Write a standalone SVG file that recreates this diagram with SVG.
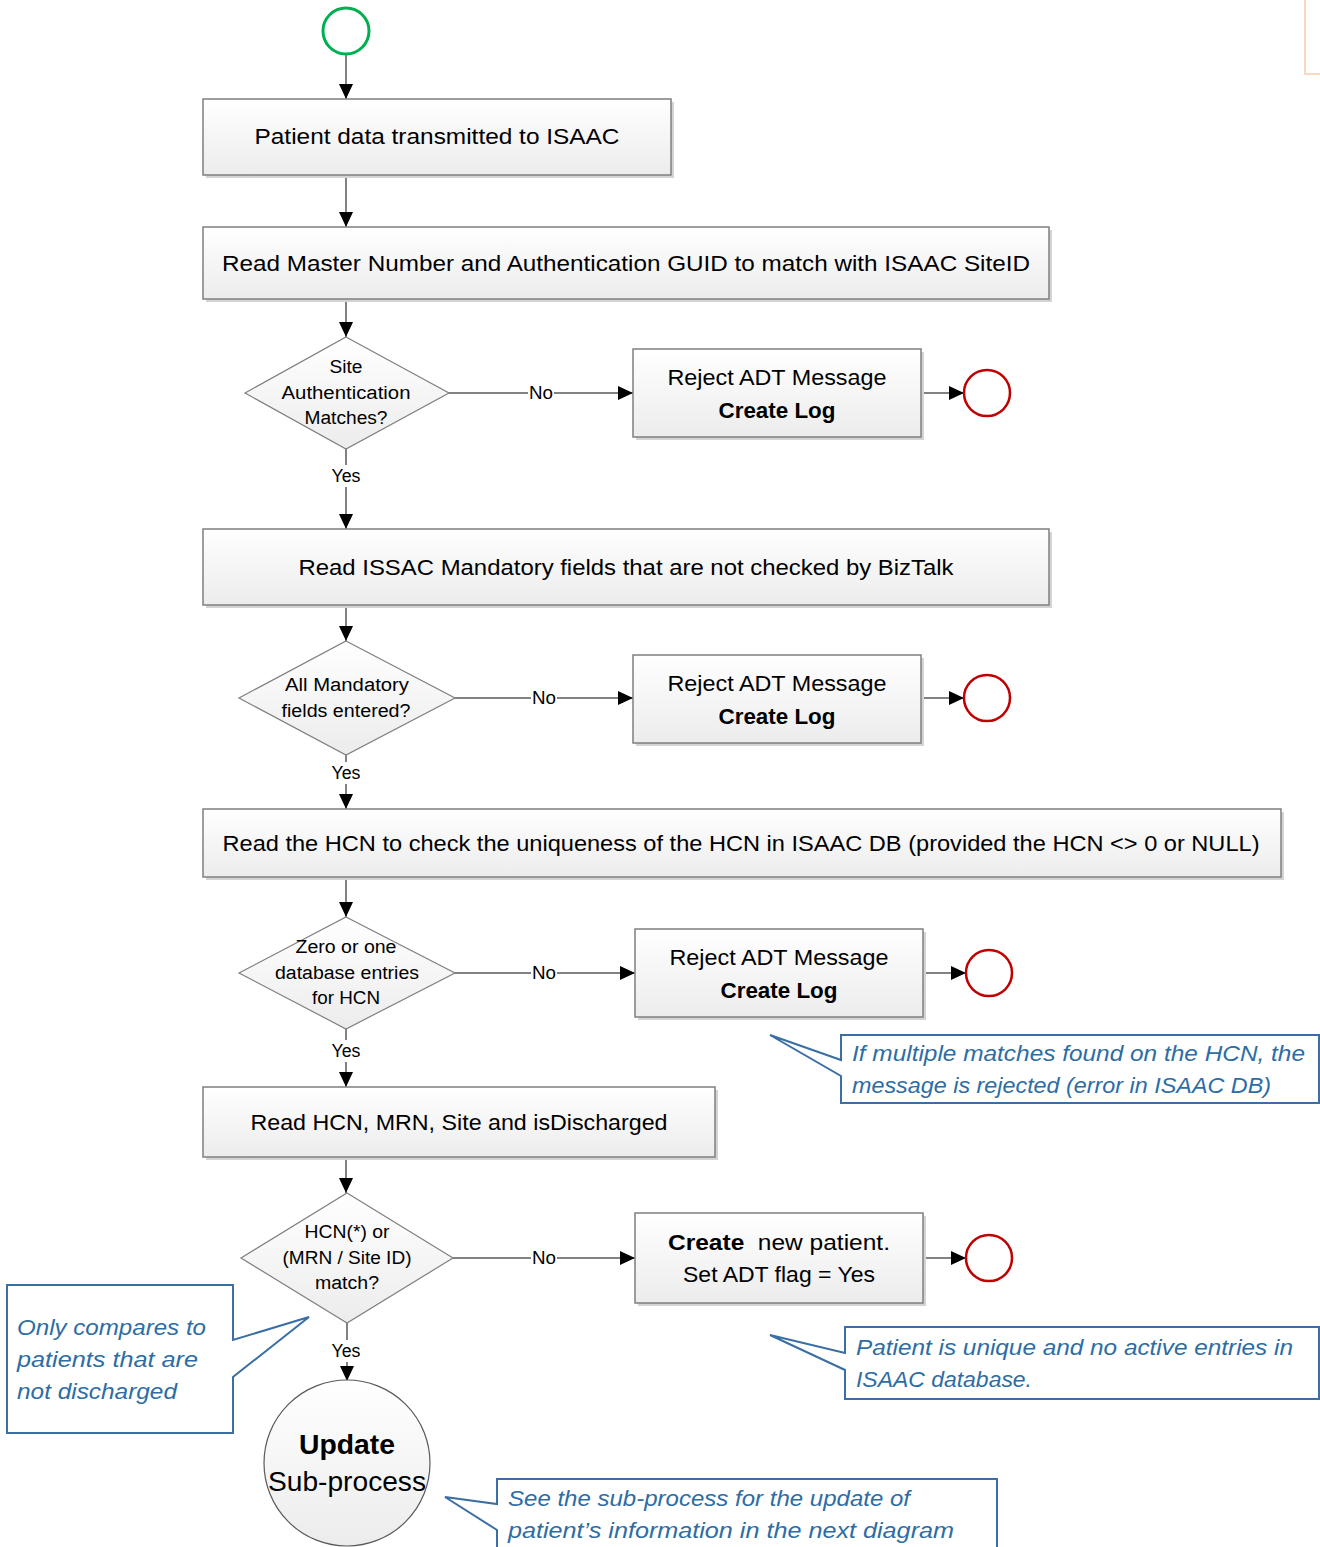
<svg xmlns="http://www.w3.org/2000/svg" width="1320" height="1547" viewBox="0 0 1320 1547">
<style>
.box{fill:url(#g);stroke:#7f7f7f;stroke-width:1.5}
.sh{fill:#d4d4d4}
.dia{fill:url(#g);stroke:#7f7f7f;stroke-width:1.2}
.t{font-family:"Liberation Sans",Arial,sans-serif;font-size:22px;fill:#000;text-anchor:middle}
.d{font-family:"Liberation Sans",Arial,sans-serif;font-size:18px;fill:#000;text-anchor:middle}
.b{font-weight:bold}
.c{font-family:"Liberation Sans",Arial,sans-serif;font-size:22px;font-style:italic;fill:#2e6da4}
.co{fill:#fff;stroke:#3a6ea5;stroke-width:2}
.ln{fill:none;stroke:#595959;stroke-width:1.5;marker-end:url(#a)}
.lb{font-family:"Liberation Sans",Arial,sans-serif;font-size:18px;fill:#000;text-anchor:middle}
.end{fill:#fff;stroke:#c00000;stroke-width:2.5}
</style>
<defs>
<linearGradient id="g" x1="0" y1="0" x2="0" y2="1"><stop offset="0" stop-color="#ffffff"/><stop offset="1" stop-color="#ececec"/></linearGradient>
<marker id="a" markerUnits="userSpaceOnUse" markerWidth="16" markerHeight="14" refX="15" refY="7" orient="auto"><path d="M0,0 L15,7 L0,14 Z" fill="#000"/></marker>
</defs>
<rect width="1320" height="1547" fill="#fff"/>
<g id="offpage"><path d="M1305,0 V74 H1320" fill="none" stroke="#f8d8c2" stroke-width="2"/></g>

<g id="connectors">
<path class="ln" d="M346,54 V99"/>
<path class="ln" d="M346,175 V227"/>
<path class="ln" d="M346,299 V337"/>
<path class="ln" d="M449,393 H633"/>
<path class="ln" d="M921,393 H964"/>
<path class="ln" d="M346,449 V529"/>
<path class="ln" d="M346,605 V641"/>
<path class="ln" d="M455,698 H633"/>
<path class="ln" d="M921,698 H964"/>
<path class="ln" d="M346,755 V809"/>
<path class="ln" d="M346,877 V917"/>
<path class="ln" d="M455,973 H635"/>
<path class="ln" d="M923,973 H966"/>
<path class="ln" d="M346,1029 V1087"/>
<path class="ln" d="M346,1157 V1193"/>
<path class="ln" d="M453,1258 H635"/>
<path class="ln" d="M923,1258 H966"/>
<path class="ln" d="M347,1323 V1381"/>
<g fill="#fff">
<rect x="528" y="383" width="26" height="20"/>
<rect x="531" y="688" width="26" height="20"/>
<rect x="531" y="963" width="26" height="20"/>
<rect x="531" y="1248" width="26" height="20"/>
<rect x="331" y="465" width="31" height="22"/>
<rect x="331" y="762" width="31" height="22"/>
<rect x="331" y="1040" width="31" height="22"/>
<rect x="331" y="1340" width="31" height="22"/>
</g>
<text class="lb" x="541" y="399" textLength="24" lengthAdjust="spacingAndGlyphs">No</text>
<text class="lb" x="544" y="704" textLength="24" lengthAdjust="spacingAndGlyphs">No</text>
<text class="lb" x="544" y="979" textLength="24" lengthAdjust="spacingAndGlyphs">No</text>
<text class="lb" x="544" y="1264" textLength="24" lengthAdjust="spacingAndGlyphs">No</text>
<text class="lb" x="346" y="482" textLength="29" lengthAdjust="spacingAndGlyphs">Yes</text>
<text class="lb" x="346" y="779" textLength="29" lengthAdjust="spacingAndGlyphs">Yes</text>
<text class="lb" x="346" y="1057" textLength="29" lengthAdjust="spacingAndGlyphs">Yes</text>
<text class="lb" x="346" y="1357" textLength="29" lengthAdjust="spacingAndGlyphs">Yes</text>
</g>

<g id="start"><circle cx="346" cy="31" r="23" fill="#fff" stroke="#00b050" stroke-width="3"/></g>

<g id="box1"><rect class="sh" x="206" y="102" width="468" height="76"/><rect class="box" x="203" y="99" width="468" height="76"/>
<text class="t" x="437" y="144" textLength="365" lengthAdjust="spacingAndGlyphs">Patient data transmitted to ISAAC</text></g>

<g id="box2"><rect class="sh" x="206" y="230" width="846" height="72"/><rect class="box" x="203" y="227" width="846" height="72"/>
<text class="t" x="626" y="271" textLength="808" lengthAdjust="spacingAndGlyphs">Read Master Number and Authentication GUID to match with ISAAC SiteID</text></g>

<g id="dec1"><polygon class="dia" points="346,337 449,393 346,449 245,393"/>
<text class="d" x="346" y="373" textLength="33" lengthAdjust="spacingAndGlyphs">Site</text>
<text class="d" x="346" y="399" textLength="129" lengthAdjust="spacingAndGlyphs">Authentication</text>
<text class="d" x="346" y="424" textLength="83" lengthAdjust="spacingAndGlyphs">Matches?</text></g>

<g id="reject1"><rect class="sh" x="636" y="352" width="288" height="88"/><rect class="box" x="633" y="349" width="288" height="88"/>
<text class="t" x="777" y="385" textLength="219" lengthAdjust="spacingAndGlyphs">Reject ADT Message</text>
<text class="t b" x="777" y="418" textLength="117" lengthAdjust="spacingAndGlyphs">Create Log</text></g>
<g id="end1"><circle class="end" cx="987" cy="393" r="23"/></g>

<g id="box3"><rect class="sh" x="206" y="532" width="846" height="76"/><rect class="box" x="203" y="529" width="846" height="76"/>
<text class="t" x="626" y="575" textLength="655" lengthAdjust="spacingAndGlyphs">Read ISSAC Mandatory fields that are not checked by BizTalk</text></g>

<g id="dec2"><polygon class="dia" points="346,641 455,698 346,755 239,698"/>
<text class="d" x="347" y="691" textLength="124" lengthAdjust="spacingAndGlyphs">All Mandatory</text>
<text class="d" x="346" y="717" textLength="129" lengthAdjust="spacingAndGlyphs">fields entered?</text></g>

<g id="reject2"><rect class="sh" x="636" y="658" width="288" height="88"/><rect class="box" x="633" y="655" width="288" height="88"/>
<text class="t" x="777" y="691" textLength="219" lengthAdjust="spacingAndGlyphs">Reject ADT Message</text>
<text class="t b" x="777" y="724" textLength="117" lengthAdjust="spacingAndGlyphs">Create Log</text></g>
<g id="end2"><circle class="end" cx="987" cy="698" r="23"/></g>

<g id="box4"><rect class="sh" x="206" y="812" width="1078" height="68"/><rect class="box" x="203" y="809" width="1078" height="68"/>
<text class="t" x="741" y="851" textLength="1037" lengthAdjust="spacingAndGlyphs">Read the HCN to check the uniqueness of the HCN in ISAAC DB (provided the HCN &lt;&gt; 0 or NULL)</text></g>

<g id="dec3"><polygon class="dia" points="346,917 455,973 346,1029 239,973"/>
<text class="d" x="346" y="953" textLength="101" lengthAdjust="spacingAndGlyphs">Zero or one</text>
<text class="d" x="347" y="979" textLength="144" lengthAdjust="spacingAndGlyphs">database entries</text>
<text class="d" x="346" y="1004" textLength="68" lengthAdjust="spacingAndGlyphs">for HCN</text></g>

<g id="reject3"><rect class="sh" x="638" y="932" width="288" height="88"/><rect class="box" x="635" y="929" width="288" height="88"/>
<text class="t" x="779" y="965" textLength="219" lengthAdjust="spacingAndGlyphs">Reject ADT Message</text>
<text class="t b" x="779" y="998" textLength="117" lengthAdjust="spacingAndGlyphs">Create Log</text></g>
<g id="end3"><circle class="end" cx="989" cy="973" r="23"/></g>

<g id="box5"><rect class="sh" x="206" y="1090" width="512" height="70"/><rect class="box" x="203" y="1087" width="512" height="70"/>
<text class="t" x="459" y="1130" textLength="417" lengthAdjust="spacingAndGlyphs">Read HCN, MRN, Site and isDischarged</text></g>

<g id="dec4"><polygon class="dia" points="347,1193 453,1258 347,1323 241,1258"/>
<text class="d" x="347" y="1238" textLength="85" lengthAdjust="spacingAndGlyphs">HCN(*) or</text>
<text class="d" x="347" y="1264" textLength="129" lengthAdjust="spacingAndGlyphs">(MRN / Site ID)</text>
<text class="d" x="347" y="1289" textLength="64" lengthAdjust="spacingAndGlyphs">match?</text></g>

<g id="create"><rect class="sh" x="638" y="1216" width="288" height="90"/><rect class="box" x="635" y="1213" width="288" height="90"/>
<text class="t" x="779" y="1250" textLength="222" lengthAdjust="spacingAndGlyphs" xml:space="preserve"><tspan class="b">Create</tspan>  new patient.</text>
<text class="t" x="779" y="1282" textLength="192" lengthAdjust="spacingAndGlyphs">Set ADT flag = Yes</text></g>
<g id="end4"><circle class="end" cx="989" cy="1258" r="23"/></g>

<g id="update"><circle cx="347" cy="1463" r="83" fill="url(#g)" stroke="#595959" stroke-width="1.2"/>
<text class="t b" x="347" y="1454" style="font-size:27px" textLength="96" lengthAdjust="spacingAndGlyphs">Update</text>
<text class="t" x="347" y="1491" style="font-size:27px" textLength="158" lengthAdjust="spacingAndGlyphs">Sub-process</text></g>

<g id="note1"><path class="co" d="M841,1035 H1319 V1103 H841 V1076 L770,1035 L841,1060 Z"/>
<text class="c" x="852" y="1061" textLength="453" lengthAdjust="spacingAndGlyphs">If multiple matches found on the HCN, the</text>
<text class="c" x="852" y="1093" textLength="419" lengthAdjust="spacingAndGlyphs">message is rejected (error in ISAAC DB)</text></g>

<g id="note2"><path class="co" d="M845,1327 H1319 V1399 H845 V1370 L770,1335 L845,1353 Z"/>
<text class="c" x="856" y="1355" textLength="437" lengthAdjust="spacingAndGlyphs">Patient is unique and no active entries in</text>
<text class="c" x="856" y="1387" textLength="176" lengthAdjust="spacingAndGlyphs">ISAAC database.</text></g>

<g id="note3"><path class="co" d="M7,1285 H233 V1340 L309,1317 L233,1377 V1433 H7 Z"/>
<text class="c" x="17" y="1335" textLength="189" lengthAdjust="spacingAndGlyphs">Only compares to</text>
<text class="c" x="17" y="1367" textLength="181" lengthAdjust="spacingAndGlyphs">patients that are</text>
<text class="c" x="17" y="1399" textLength="160" lengthAdjust="spacingAndGlyphs">not discharged</text></g>

<g id="note4"><path class="co" d="M497,1479 H997 V1560 H497 V1530 L445,1497 L497,1504 Z"/>
<text class="c" x="508" y="1506" textLength="402" lengthAdjust="spacingAndGlyphs">See the sub-process for the update of</text>
<text class="c" x="508" y="1538" textLength="446" lengthAdjust="spacingAndGlyphs">patient’s information in the next diagram</text></g>
</svg>
